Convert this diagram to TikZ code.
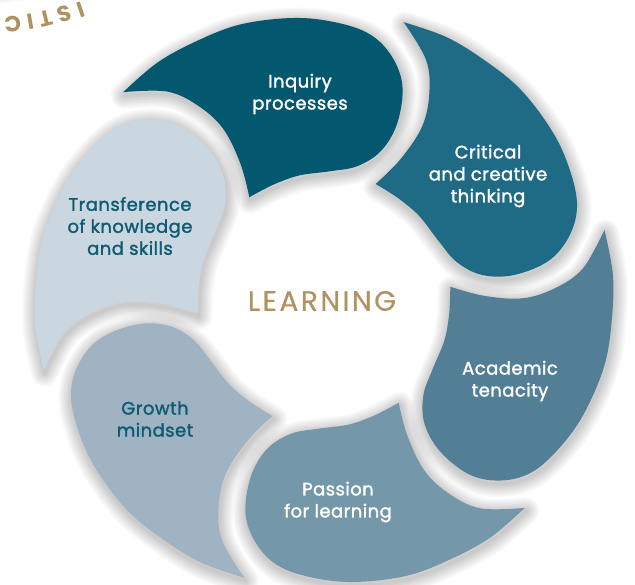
\documentclass[tikz,border=0pt]{standalone}
\usepackage{fontspec}
\setmainfont{Poppins}
\newfontfamily\pop{Poppins}[FakeBold=1.6, LetterSpace=2.5]
\newfontfamily\popgold{Poppins}
\newfontfamily\poplearn{Poppins}[FakeBold=0.4, LetterSpace=9]
\definecolor{cInq}{HTML}{03576F}
\definecolor{cCri}{HTML}{1F6A84}
\definecolor{cAca}{HTML}{537F96}
\definecolor{cPas}{HTML}{7597AA}
\definecolor{cGro}{HTML}{9FB3C3}
\definecolor{cTra}{HTML}{CAD6E0}
\definecolor{cDark}{HTML}{0E5B73}
\definecolor{cGold}{HTML}{B09260}
\newcommand\petalpath[2]{%
  \path[#2, rotate=#1] plot[smooth, tension=0.6] coordinates {(37:289) (28:290) (19:288.5) (10:288) (0:284) (-8:279) (-16:271) (-22:255) (-27:229) (-29.5:192) (-28:160) (-21:138) (-10:129) (4:127) (15:126) (23:126) (29:127)} -- plot[smooth, tension=0.6] coordinates {(29:127) (24.5:160) (23.5:199) (26:232) (30:261) (37:289)} -- cycle;}
\newcommand\petalglow[1]{%
  \foreach \w in {3,6,...,27}{\petalpath{#1}{draw=black, draw opacity=0.024, line width=\w pt, line join=round, yshift=-3pt, xshift=1pt}}}
\tikzset{
  lbl/.style={font=\pop\fontsize{18}{22}\selectfont, align=center, inner sep=0pt},
  arcl/.style={font=\popgold\bfseries\fontsize{22}{22}\selectfont, text=cGold, inner sep=0pt}
}
\begin{document}
\begin{tikzpicture}[x=1pt,y=1pt]
\useasboundingbox (0,0) rectangle (635,-585);
\fill[white] (0,0) rectangle (635,-585);
% shadow at the top-left corner
\foreach \w in {4,8,...,32}{\draw[black, draw opacity=0.022, line width=\w pt] (-60,4) -- (200,40);}
% curved text fragment
\node[arcl, rotate=186] (t1) at (12.5,-24) {C};
\node[arcl, rotate=190] (t2) at (31,-22) {I};
\node[arcl, rotate=194] (t3) at (46.5,-18.5) {T};
\node[arcl, rotate=197] (t4) at (64.5,-14) {S};
\node[arcl, rotate=199] (t5) at (81,-9.5) {I};
\begin{scope}[shift={(324,-300)}]
  % soft shadows first
  \petalglow{97}
  \petalglow{37}
  \petalglow{-23}
  \petalglow{-83}
  \petalglow{-143}
  \petalglow{157}
  % fills on top
  \petalpath{97}{fill=cInq}
  \petalpath{37}{fill=cCri}
  \petalpath{-23}{fill=cAca}
  \petalpath{-83}{fill=cPas}
  \petalpath{-143}{fill=cGro}
  \petalpath{157}{fill=cTra}
\end{scope}
\node[lbl, text=white] (inq) at (300,-94) {Inquiry\\processes};
\node[lbl, text=white] (cri) at (488,-176) {Critical\\and creative\\thinking};
\node[lbl, text=white] (aca) at (510,-381) {Academic\\tenacity};
\node[lbl, text=white] (pas) at (338,-502) {Passion\\for learning};
\node[lbl, text=cDark] (gro) at (155,-419) {Growth\\mindset};
\node[lbl, text=cDark] (tra) at (130,-226) {Transference\\of knowledge\\and skills};
\node[font=\poplearn\fontsize{28}{30}\selectfont, text=cGold, inner sep=0pt] (learn) at (322,-301) {LEARNING};
\end{tikzpicture}
\end{document}
